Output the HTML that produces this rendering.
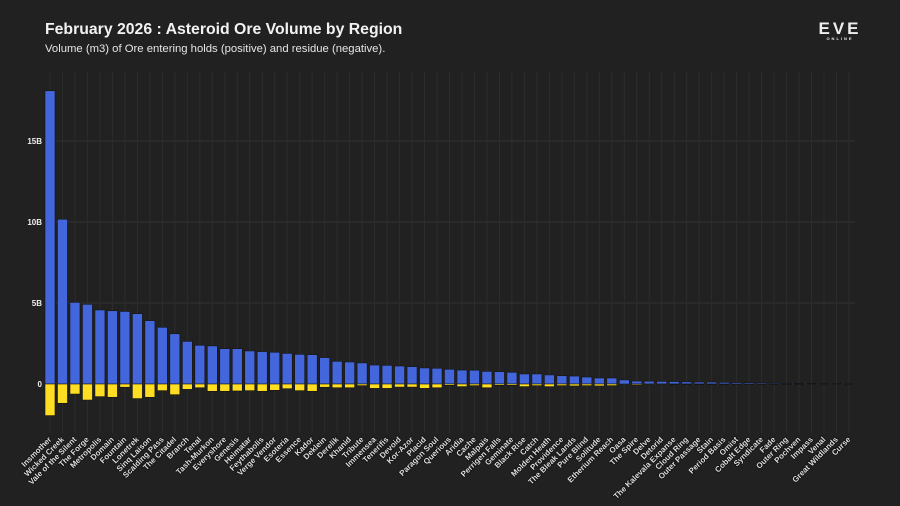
<!DOCTYPE html>
<html><head><meta charset="utf-8"><style>
html,body{margin:0;padding:0;background:#212121;}
body{width:900px;height:506px;overflow:hidden;position:relative;font-family:"Liberation Sans",sans-serif;}
#title{position:absolute;left:45px;top:21px;color:#f2f2f2;font-weight:bold;font-size:15.8px;}
#sub{position:absolute;left:45px;top:43px;color:#e6e6e6;font-size:11.3px;}
#logo{position:absolute;left:812px;top:22px;color:#eee;font-weight:bold;font-size:17px;letter-spacing:3px;text-align:center;width:56px;line-height:14px;}
#logo small{display:block;font-size:4px;letter-spacing:2px;line-height:6px;}
svg{position:absolute;left:0;top:0;}
</style></head><body>
<div id="title">February 2026 : Asteroid Ore Volume by Region</div>
<div id="sub">Volume (m3) of Ore entering holds (positive) and residue (negative).</div>
<div id="logo">EVE<small>ONLINE</small></div>
<svg id="chart" width="900" height="506"></svg>
<script>
const categories=["Insmother","Wicked Creek","Vale of the Silent","The Forge","Metropolis","Domain","Fountain","Lonetrek","Sinq Laison","Scalding Pass","The Citadel","Branch","Tenal","Tash-Murkon","Everyshore","Genesis","Heimatar","Feythabolis","Verge Vendor","Esoteria","Essence","Kador","Deklein","Derelik","Khanid","Tribute","Immensea","Tenerifis","Devoid","Kor-Azor","Placid","Paragon Soul","Querious","Aridia","Cache","Malpais","Perrigen Falls","Geminate","Black Rise","Catch","Molden Heath","Providence","The Bleak Lands","Pure Blind","Solitude","Etherium Reach","Oasa","The Spire","Delve","Detorid","The Kalevala Expanse","Cloud Ring","Outer Passage","Stain","Period Basis","Omist","Cobalt Edge","Syndicate","Fade","Outer Ring","Pochven","Impass","Venal","Great Wildlands","Curse"];
const oreVolume=[18.1,10.17,5.04,4.92,4.57,4.52,4.48,4.34,3.91,3.5,3.1,2.63,2.39,2.35,2.18,2.18,2.04,2.0,1.96,1.89,1.83,1.81,1.63,1.4,1.36,1.3,1.17,1.15,1.11,1.07,0.99,0.97,0.91,0.86,0.85,0.78,0.76,0.72,0.62,0.62,0.56,0.51,0.49,0.43,0.37,0.37,0.25,0.18,0.17,0.16,0.15,0.13,0.12,0.12,0.1,0.09,0.08,0.07,0.06,0.05,0.04,0.03,0.02,0.015,0.01];
const residue=[-1.95,-1.19,-0.62,-0.99,-0.78,-0.82,-0.2,-0.9,-0.82,-0.41,-0.66,-0.33,-0.23,-0.45,-0.45,-0.43,-0.41,-0.45,-0.39,-0.29,-0.41,-0.45,-0.2,-0.23,-0.23,-0.1,-0.27,-0.27,-0.19,-0.19,-0.27,-0.23,-0.08,-0.16,-0.1,-0.23,-0.08,-0.08,-0.16,-0.1,-0.16,-0.1,-0.12,-0.1,-0.12,-0.1,0,-0.06,-0.04,-0.04,-0.03,-0.03,-0.03,-0.03,-0.03,-0.02,-0.02,-0.02,-0.02,-0.02,-0.02,-0.01,-0.01,-0.01,-0.01];
const yTicks=[0,5,10,15];
const yTickLabels=["0","5B","10B","15B"];

const NS="http://www.w3.org/2000/svg";
const svg=document.getElementById('chart');
const x0=50,x1=849,zeroY=384,pxPerB=16.2,gTop=72,gBot=433;
const step=(x1-x0)/(categories.length-1);
const xScale=i=>x0+i*step;
const yScale=v=>zeroY-v*pxPerB;
function mk(t,a){const e=document.createElementNS(NS,t);for(const k in a)e.setAttribute(k,a[k]);svg.appendChild(e);return e;}
yTicks.forEach((t,i)=>{
  const l=mk('line',{x1:45,x2:855,y1:yScale(t),y2:yScale(t),stroke:'#333',"stroke-width":1});
  
  
  const tx=mk('text',{x:42,y:yScale(t)+3,fill:'#eee',"font-size":8,"font-weight":"bold","text-anchor":"end"});
  tx.textContent=yTickLabels[i];
  
  
});
categories.forEach((c,i)=>{
  const cx=xScale(i);
  const g=mk('line',{x1:cx,x2:cx,y1:gTop,y2:gBot,stroke:'#2d2d2d',"stroke-width":1});
  
  
});
categories.forEach((c,i)=>{
  const cx=xScale(i),w=10;
  const top=yScale(oreVolume[i]);
  const b=mk('rect',{x:cx-w/2,y:top,width:w,height:Math.max(zeroY-top,0.5),fill:'#4466dd',stroke:'#141414',"stroke-width":0.6});
  
  
  const bot=yScale(residue[i]);
  if(bot>zeroY){
    const r=mk('rect',{x:cx-w/2,y:zeroY,width:w,height:bot-zeroY,fill:'#ffdd22',stroke:'#141414',"stroke-width":0.6});
    
    
  }
  const t=mk('text',{x:0,y:0,fill:'#ddd',"font-size":8,"font-weight":"bold","text-anchor":"end",transform:`translate(${cx+2},${440}) rotate(-45)`,style:"paint-order:stroke;stroke:#111;stroke-width:1.5px"});
  t.textContent=c;
  
  
});
</script>
</body></html>
